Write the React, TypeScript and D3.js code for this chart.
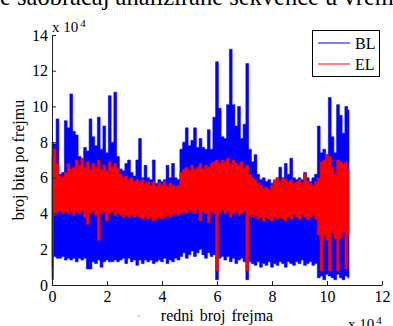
import React, { useEffect, useRef } from 'react';
import { select, scaleLinear, area, axisBottom, axisLeft, curveStep } from 'd3';

// values are in units of 10^4 (bits per frame), one point every 1000 frames
const BIN = 0.1; // 1000 frames in units of 10^4

const xTicks = [0, 2, 4, 6, 8, 10, 12];
const yTicks = [0, 2, 4, 6, 8, 10, 12, 14];

const seriesNames = ['BL', 'EL'];
const seriesColors = ['#0000ff', '#ff0000'];

const blHigh = [
  8.0, 7.9, 9.3, 6.2, 6.3, 9.2, 8.8, 10.7, 8.6, 8.4,
  7.2, 7.1, 7.7, 7.5, 9.3, 8.3, 7.8, 9.4, 7.6, 8.9,
  7.4, 10.6, 8.0, 10.8, 7.2, 6.5, 6.4, 6.8, 7.0, 6.3,
  6.1, 7.0, 8.2, 6.0, 6.7, 6.0, 5.9, 7.0, 5.7, 5.9,
  5.8, 5.9, 6.7, 6.0, 6.8, 6.0, 5.9, 7.6, 8.0, 8.8,
  7.8, 8.1, 8.8, 7.7, 8.2, 7.7, 7.6, 8.7, 7.6, 9.4,
  12.5, 9.9, 8.3, 8.2, 10.1, 13.2, 10.1, 8.9, 10.0, 8.2,
  9.0, 12.4, 7.6, 6.9, 7.3, 6.2, 5.9, 6.0, 5.8, 5.9,
  5.7, 5.8, 6.0, 6.6, 6.0, 6.8, 6.2, 7.1, 6.0, 5.9,
  6.0, 5.9, 6.3, 6.0, 5.8, 6.0, 6.2, 8.9, 7.4, 7.6,
  7.3, 10.5, 8.3, 7.4, 10.1, 9.5, 8.5, 10.0, 9.8,
];

const blLow = [
  0.3, 1.6, 1.5, 1.5, 1.6, 1.4, 1.5, 1.4, 1.5, 1.3,
  1.5, 1.4, 1.5, 0.9, 0.9, 1.3, 1.2, 1.4, 1.0, 1.3,
  1.4, 1.3, 1.3, 1.4, 1.3, 1.4, 1.5, 1.2, 1.5, 1.3,
  1.4, 1.1, 1.4, 1.2, 1.4, 1.3, 1.4, 1.2, 1.3, 1.4,
  1.3, 1.5, 1.2, 1.4, 1.3, 1.5, 1.4, 1.6, 1.8, 1.5,
  1.7, 1.9, 1.6, 1.8, 2.0, 1.7, 1.5, 1.8, 1.6, 1.7,
  0.3, 1.5, 1.6, 1.4, 1.6, 1.3, 1.5, 1.2, 1.4, 1.5,
  1.3, 0.3, 1.3, 1.2, 1.1, 1.3, 1.0, 1.2, 1.1, 1.3,
  1.0, 1.2, 1.1, 1.3, 1.2, 1.0, 1.3, 1.2, 1.1, 1.3,
  1.2, 1.4, 1.1, 1.2, 1.3, 1.1, 1.2, 0.4, 0.5, 0.3,
  0.6, 0.5, 0.4, 0.3, 0.6, 0.4, 0.3, 0.5, 0.4,
];

const elHigh = [
  7.2, 7.6, 6.8, 6.1, 6.0, 6.3, 6.8, 6.5, 6.6, 7.0,
  6.7, 7.1, 6.6, 6.9, 6.5, 6.8, 6.6, 7.0, 6.5, 6.7,
  6.4, 6.9, 6.6, 6.8, 6.5, 6.2, 6.0, 6.1, 5.9, 6.0,
  5.8, 5.9, 5.8, 5.9, 5.7, 5.8, 5.6, 5.8, 5.5, 5.7,
  5.6, 5.8, 5.5, 5.7, 5.6, 5.5, 5.6, 6.3, 6.5, 6.6,
  6.4, 6.7, 6.5, 6.6, 6.8, 6.5, 6.7, 6.6, 6.8, 6.9,
  7.0, 6.8, 7.0, 6.9, 7.1, 6.8, 7.0, 6.8, 6.7, 6.9,
  6.6, 6.7, 6.2, 6.0, 5.9, 5.7, 5.6, 5.4, 5.5, 5.3,
  5.6, 5.9, 6.0, 5.8, 6.0, 5.9, 5.8, 5.9, 5.7, 5.8,
  5.9, 5.7, 6.2, 5.8, 5.7, 5.6, 5.8, 6.0, 6.9, 7.0,
  7.3, 7.2, 6.6, 6.2, 7.0, 6.9, 6.8, 6.9, 6.5,
];

const elLow = [
  1.0, 3.9, 4.1, 4.1, 4.0, 4.1, 4.0, 4.1, 3.9, 4.1,
  4.0, 4.1, 3.8, 3.4, 4.0, 4.1, 3.9, 2.5, 4.0, 4.1,
  3.6, 4.0, 4.1, 3.9, 4.0, 3.9, 3.8, 3.9, 3.8, 3.9,
  3.8, 3.9, 3.8, 3.7, 3.8, 3.7, 3.8, 3.6, 3.7, 3.8,
  3.7, 3.8, 3.9, 3.8, 3.9, 4.0, 3.9, 4.0, 4.1, 4.0,
  4.2, 4.1, 4.0, 4.2, 3.6, 4.1, 4.0, 3.5, 4.1, 4.0,
  0.8, 4.1, 4.2, 4.0, 4.1, 3.8, 4.0, 4.1, 3.9, 4.0,
  4.1, 0.8, 3.9, 3.8, 3.9, 3.7, 3.8, 3.6, 3.8, 3.7,
  3.6, 3.8, 3.7, 3.8, 3.7, 3.6, 3.8, 3.7, 3.9, 3.8,
  3.7, 3.9, 3.8, 3.7, 3.8, 3.9, 3.7, 2.8, 0.8, 2.7,
  2.5, 0.8, 2.9, 2.6, 0.8, 2.6, 3.0, 0.9, 2.8,
];

const serif = '"Liberation Serif", "Times New Roman", serif';

function App() {
  const svgRef = useRef<SVGSVGElement>(null);

  useEffect(() => {
    const width = 393;
    const height = 326;
    const left = 52, right = 382, top = 35, bottom = 285;

    const svg = select(svgRef.current)
      .attr('width', width)
      .attr('height', height)
      .attr('viewBox', `0 0 ${width} ${height}`)
      .style('font-family', serif);
    svg.selectAll('*').remove();

    const xScale = scaleLinear().domain([0, 12]).range([left, right]);
    const yScale = scaleLinear().domain([0, 14]).range([bottom, top]);

    // cut-off caption line from the page above the figure
    svg.append('text')
      .attr('x', 0).attr('y', 5)
      .style('font-family', serif).attr('font-size', 24.5)
      .text('e saobraćaj analizirane sekvence u vremenu');

    const series = [
      { hi: blHigh, lo: blLow, color: seriesColors[0] },
      { hi: elHigh, lo: elLow, color: seriesColors[1] },
    ];

    series.forEach((s) => {
      const pts = s.hi.map((h, i) => ({ f: i * BIN, hi: h, lo: s.lo[i] }));
      const band = area<{ f: number; hi: number; lo: number }>()
        .curve(curveStep)
        .x((d) => xScale(d.f))
        .y0((d) => yScale(d.lo))
        .y1((d) => yScale(d.hi));
      svg.append('path')
        .datum(pts)
        .attr('d', band)
        .attr('fill', s.color)
        .attr('stroke', s.color)
        .attr('stroke-width', 0.6);
    });

    const xAxis = axisBottom(xScale)
      .tickValues(xTicks)
      .tickSizeInner(-4)
      .tickSizeOuter(0)
      .tickPadding(6)
      .tickFormat((d) => String(d));
    const gx = svg.append('g')
      .attr('transform', `translate(0,${bottom})`)
      .call(xAxis)
      .attr('color', '#222');

    const yAxis = axisLeft(yScale)
      .tickValues(yTicks)
      .tickSizeInner(-4)
      .tickSizeOuter(0)
      .tickPadding(4)
      .tickFormat((d) => String(d));
    const gy = svg.append('g')
      .attr('transform', `translate(${left},0)`)
      .call(yAxis)
      .attr('color', '#222');

    [gx, gy].forEach((g) => {
      g.attr('font-family', null).attr('font-size', null);
      g.selectAll('text')
        .style('font-family', serif)
        .style('font-size', '16px')
        .attr('fill', '#000');
    });

    // exponent labels
    const expo = (x0: number, y0: number) => {
      const t = svg.append('text')
        .attr('x', x0).attr('y', y0)
        .style('font-family', serif).attr('font-size', 15);
      t.append('tspan').text('x 10');
      t.append('tspan').attr('font-size', 11).attr('dy', -5).attr('dx', 2).text('4');
    };
    expo(52, 32);
    expo(348, 329);

    // axis titles
    svg.append('text')
      .attr('x', 217).attr('y', 321)
      .attr('text-anchor', 'middle')
      .style('font-family', serif).attr('font-size', 16)
      .attr('word-spacing', 2)
      .text('redni broj frejma');
    svg.append('rect').attr('x', 138.5).attr('y', 315.5).attr('width', 1).attr('height', 1).attr('fill', '#333');

    svg.append('text')
      .attr('transform', `translate(24,${160}) rotate(-90)`)
      .attr('text-anchor', 'middle')
      .style('font-family', serif).attr('font-size', 16)
      .text('broj bita po frejmu');

    // legend
    const lg = svg.append('g');
    lg.append('rect')
      .attr('x', 312.5).attr('y', 30.5).attr('width', 67).attr('height', 46)
      .attr('fill', '#fff').attr('stroke', '#000').attr('stroke-width', 1);
    seriesNames.forEach((name, i) => {
      const ly = 43 + i * 21;
      lg.append('line')
        .attr('x1', 318).attr('x2', 350).attr('y1', ly).attr('y2', ly)
        .attr('stroke', seriesColors[i]).attr('stroke-width', 1);
      lg.append('text')
        .attr('x', 355).attr('y', ly + 6)
        .style('font-family', serif).attr('font-size', 16)
        .text(name);
    });
  }, []);

  return (
    <div style={{ position: 'fixed', left: 0, top: 0, width: 393, height: 326, background: '#fff' }}>
      <svg ref={svgRef} style={{ display: 'block' }}></svg>
    </div>
  );
}

export default App;
